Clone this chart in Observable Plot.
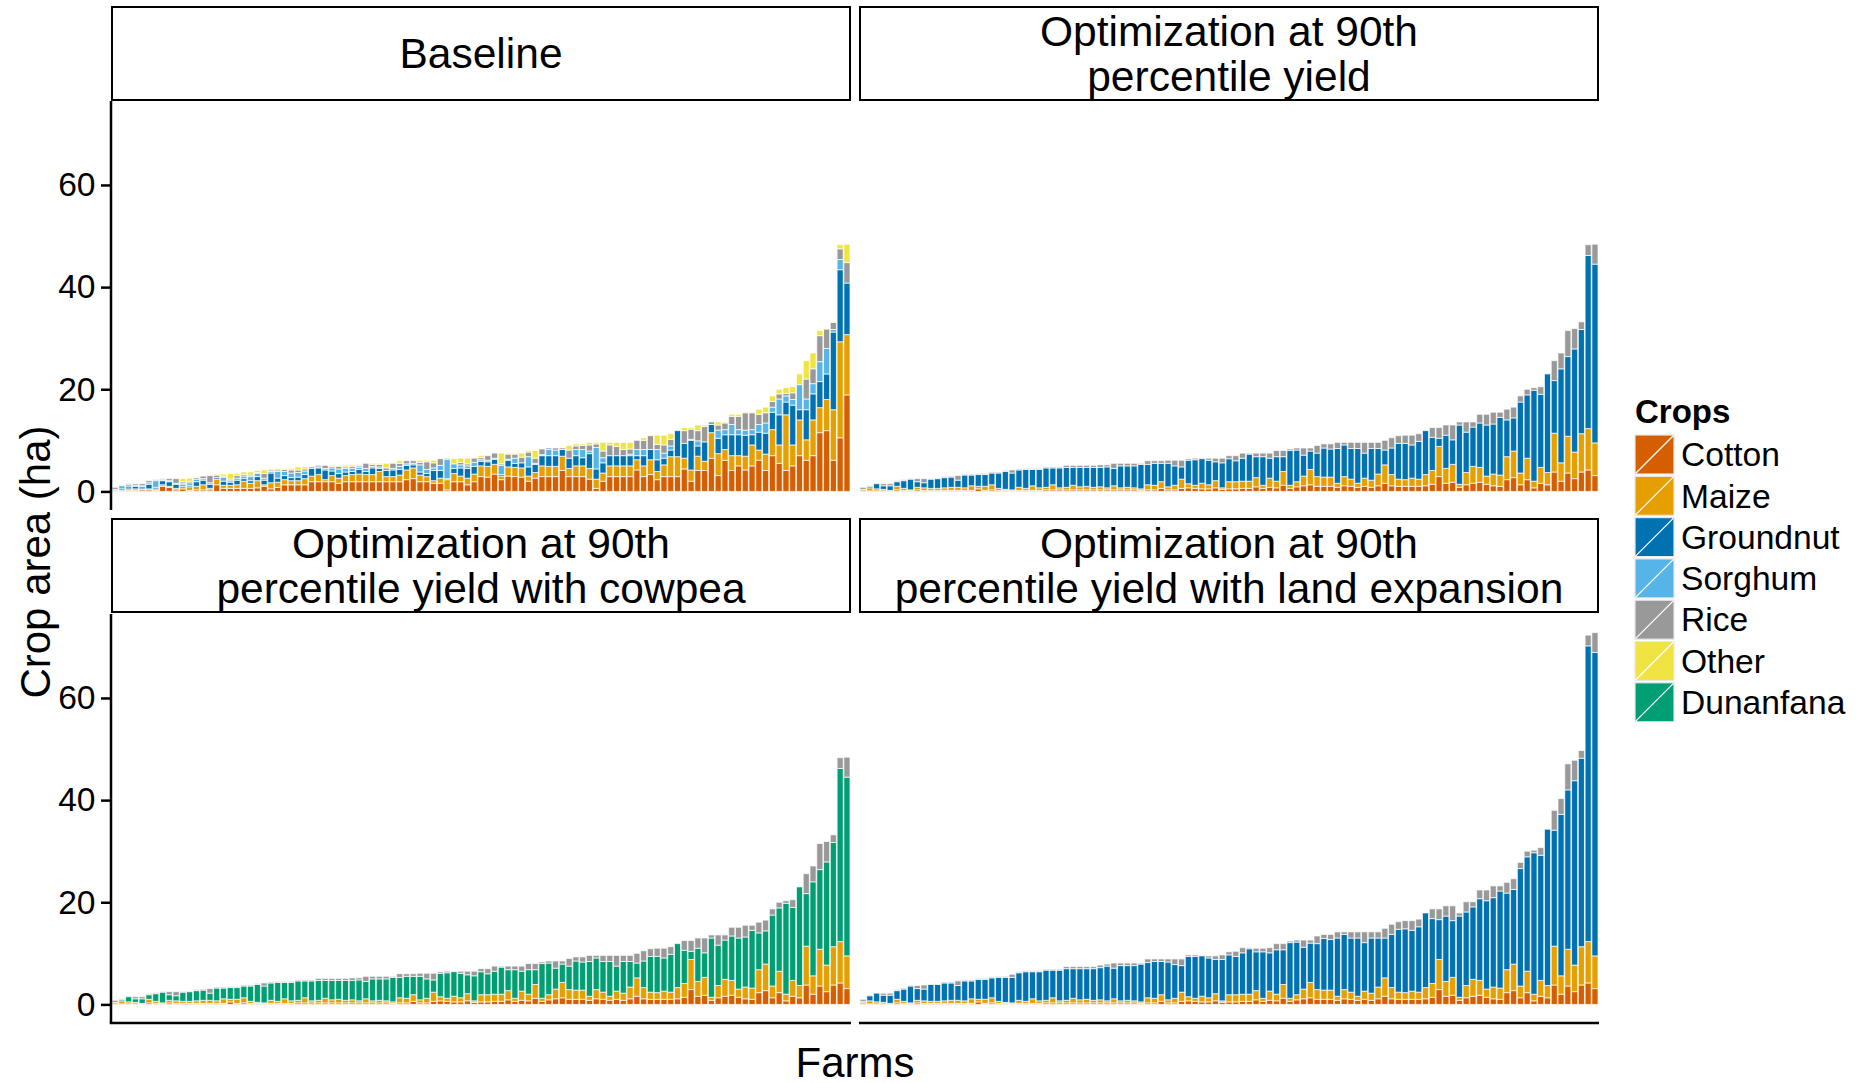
<!DOCTYPE html>
<html>
<head>
<meta charset="utf-8">
<script src="https://cdn.jsdelivr.net/npm/d3@7"></script>
<script src="https://cdn.jsdelivr.net/npm/@observablehq/plot@0.6"></script>
<style>
  html, body { margin: 0; padding: 0; background: #ffffff; overflow: hidden; }
  #root { position: relative; width: 1858px; height: 1083px; font-family: "Liberation Sans", Arial, Helvetica, sans-serif; color: #000; }
  .strip { position: absolute; box-sizing: border-box; border: 2px solid #000; background: #fff;
           display: flex; align-items: center; justify-content: center; text-align: center;
           font-size: 42.5px; line-height: 45px; white-space: pre-line; }
  .panel { position: absolute; }
  .panel svg { display: block; }
  .ytitle { position: absolute; font-size: 42px; white-space: nowrap; transform: translate(-50%, -50%) rotate(-90deg); line-height: 42px; }
  .xtitle { position: absolute; font-size: 42px; white-space: nowrap; transform: translateX(-50%); line-height: 34px; }
</style>
</head>
<body>
<div id="root"></div>
<script>
// ---------------- DATA ----------------
const cropNames  = ["Cotton", "Maize", "Groundnut", "Sorghum", "Rice", "Other", "Dunanfana"];
const cropColors = ["#D55E00", "#E69F00", "#0072B2", "#56B4E9", "#999999", "#F0E442", "#009E73"];
const stackOrder = ["Cotton", "Maize", "Groundnut", "Dunanfana", "Sorghum", "Rice", "Other"];
const yTicks = [0, 20, 40, 60];
const yDomain = [-3.64, 76.44];
const panelTitles = [
  "Baseline",
  "Optimization at 90th\npercentile yield",
  "Optimization at 90th\npercentile yield with cowpea",
  "Optimization at 90th\npercentile yield with land expansion"
];
const legendTitle = "Crops";
const xTitle = "Farms";
const yTitle = "Crop area (ha)";

// Baseline (farms sorted by total area)
const base_cotton = [0,0,.2,.2,.3,.3,.2,1.0,.8,.3, .5,.2,.3,.3,.3,1.3,.6,.6,.6,.6, .6,.7,1.0,.5,.8,1.3,1.3,1.3,1.3,1.9,
  1.9,1.9,1.9,1.6,1.9,1.9,1.9,1.9,1.9,1.9, 1.9,1.9,1.9,2.3,2.5,1.9,1.9,1.6,1.6,.3, 1.9,1.9,1.3,1.9,2.9,2.8,3.4,2.3,3.0,2.9,
  2.8,2.0,2.6,2.9,2.9,2.9,4.1,2.9,2.9,2.9, 2.4,.6,2.0,2.9,2.9,2.9,2.9,4.2,2.9,3.3, 2.3,2.9,2.9,2.9,4.4,2.0,4.1,4.1,6.5,3.1,
  6.1,4.1,5.0,4.2,5.0,6.1,4.1,7.0,5.5,4.1, 5.0,7.0,6.1,7.0,11.5,11.9,6.1,10.5,18.9];
const base_maize = [.1,.2,.3,.3,.2,.2,.3,.3,.2,.3, .5,.7,.7,1.0,.3,1.1,.6,.6,.7,1.4, 1.0,1.4,.3,1.2,1.0,1.0,.8,.8,1.2,1.1,
  1.4,.4,1.2,1.0,1.2,1.4,1.5,1.4,1.4,2.0, 1.0,1.0,1.3,1.9,2.1,1.3,1.0,.5,1.0,2.0, 1.6,1.1,1.3,1.5,2.1,2.1,1.9,.7,1.8,1.8,
  1.8,1.0,1.1,2.1,2.0,2.0,2.8,1.6,2.1,2.1, 2.1,1.8,1.6,2.1,2.1,2.1,2.1,2.0,2.1,2.9, 1.6,2.3,3.9,3.9,2.1,2.2,2.8,1.8,5.0,4.3,
  2.1,2.9,2.0,2.7,4.1,2.0,3.2,5.1,3.6,10.9, 4.1,7.0,4.0,7.0,4.9,6.1,9.9,18.8,11.8];
const base_groundnut = [.1,.3,.4,.5,.4,.9,.3,.8,.9,.8, .3,.3,.9,.9,.8,.3,.8,.6,.9,.5, .5,.8,.9,1.9,.8,.8,.6,.7,.8,1.5,
  1.3,1.9,.9,.9,.7,.6,.9,.6,1.3,.6, 1.2,1.3,1.1,.9,.6,.6,.6,2.0,1.5,.2, 1.0,1.6,1.9,1.5,.9,.9,1.0,.3,1.3,.8,
  1.0,1.8,1.6,2.0,2.1,2.1,1.3,2.0,2.0,1.6, 2.9,2.0,2.0,2.0,2.0,2.0,2.0,.8,2.0,2.0, 2.3,1.3,1.3,5.1,2.9,5.8,2.0,3.8,1.6,3.0,
  2.9,4.1,4.1,4.1,2.0,3.5,4.1,3.4,5.9,2.5, 7.8,2.0,5.9,5.1,5.1,5.0,15.2,14.1,10.1];
const base_sorghum = [.2,.6,.4,.2,.2,.3,1.3,.2,.2,.2, .3,.5,.5,.3,.3,0,.8,.3,.4,.5, .8,.6,.4,.3,1.3,.8,.9,.9,.7,0,
  .2,.3,.6,.9,.7,.6,.4,.6,.3,.3, 0,.3,.6,.3,.3,1.4,.8,.5,1.0,3.8, .9,.6,.5,.8,.3,.3,.2,1.8,.2,1.0,
  0,2.0,.2,.2,1.2,1.1,0,0,1.2,1.6, .5,4.2,1.0,0,0,0,.3,1.2,1.2,0, 2.0,1.0,.8,0,0,.2,1.0,0,0,1.6,
  1.0,2.0,1.0,1.0,1.0,1.5,2.0,1.0,3.1,1.2, 1.1,4.9,2.1,2.0,3.9,5.0,.5,2.0,0];
const base_rice = [.4,0,.2,.3,.4,.4,.2,.2,.4,.9, .3,.3,.3,.5,1.4,.5,.2,.3,.5,.3, .3,.2,.9,.3,.3,.4,.6,.5,.4,.3,
  .3,.6,.3,.5,.3,.4,.3,1.0,.4,.5, .5,1.0,.6,.6,.5,.5,1.5,1.0,1.3,.2, 0,.5,.4,.8,.4,.9,1.0,.3,1.0,.8,
  1.1,.9,1.0,1.1,.3,.4,.3,1.6,.7,.8, 1.2,.7,1.3,2.1,1.8,1.2,1.0,1.8,1.8,2.7, 1.0,1.6,1.3,0,2.5,2.0,2.0,3.0,.5,1.0,
  1.3,1.6,2.6,3.4,3.3,2.0,2.0,1.1,1.0,.5, 1.3,0,3.9,2.9,5.1,3.8,1.4,2.1,4.0];
const base_other = [0,0,0,0,0,0,0,0,0,0, .6,.6,.2,0,0,.2,.4,1.1,.4,.5, .6,.4,.7,.2,.3,.2,.3,.6,.4,0,
  0,0,.2,.2,.3,.3,.2,0,.2,.2, .9,0,.5,0,0,.4,.3,.5,0,0, 1.0,.8,1.1,0,.4,0,0,2.1,.2,.2,
  .8,.3,1.5,0,0,0,0,.9,.4,.3, .5,.3,1.7,.5,.8,1.4,1.3,0,.5,0, 1.8,1.9,1.1,0,.6,.3,1.1,.3,0,.6,
  .2,.4,.4,.1,.1,1.0,1.1,1.1,.9,1.1, 1.2,2.1,3.6,3.1,1.0,.1,.1,.8,3.6];

// Optimization at 90th percentile yield (same allocation in the cowpea panel,
// where the legume area is Dunanfana instead of Groundnut)
const opt_cotton = [.1,.1,.1,.1,0,.3,.2,.1,.3,.2, .2,.2,.2,.2,.2,.2,.2,.5,.2,.3, .2,.2,.1,.2,.2,.2,.2,.3,.3,.3,
  .3,.3,.3,.3,.3,.3,.3,.3,.3,.3, .3,.2,.3,.3,.6,.3,.3,.6,.7,.6, .5,.5,.7,.4,.5,.5,.6,.6,.9,.6,
  .8,.7,1.2,.6,.9,1.1,1.3,1.0,1.0,1.0, .8,1.1,1.0,.8,1.0,.8,1.1,1.6,1.1,1.0, 1.0,1.0,1.0,1.1,1.4,2.9,1.6,1.8,.8,1.3,
  1.6,1.8,1.4,1.1,1.0,2.3,2.7,1.3,2.3,.7, 1.6,1.3,3.8,2.0,3.6,2.5,3.8,4.2,3.1];
const opt_maize = [.3,.6,.4,.3,.2,.7,.4,.2,.5,.5, .4,.4,.5,.6,.6,.5,.9,.5,.8,1.0, .4,.2,.2,.6,.4,.9,.5,.5,1.0,.4,
  .5,.9,.6,.7,.5,.6,.4,.8,.4,.5, .4,.3,1.0,.9,1.3,.6,.9,1.8,.8,.6, 1.1,.8,1.4,.3,1.4,1.4,1.4,1.4,1.8,.6,
  1.8,1.3,2.7,.6,1.0,1.9,3.0,1.9,1.8,1.8, .8,1.8,1.4,.8,1.6,1.4,2.3,3.6,2.2,1.4, 1.3,1.6,1.4,2.2,2.7,5.9,2.9,3.5,.6,2.4,
  3.3,2.9,1.6,2.3,2.2,4.5,5.2,2.3,4.2,1.3, 3.1,2.4,7.6,3.6,7.2,5.2,7.5,8.1,6.4];
const opt_legume = [0,.3,1.0,.7,.9,.9,1.5,2.1,1.1,1.0, 1.8,1.9,2.0,2.0,1.4,2.5,2.1,2.3,2.3,2.3, 3.0,3.5,3.3,3.4,3.7,3.2,3.6,3.8,3.3,3.9,
  3.9,3.5,3.8,3.7,3.9,3.8,4.1,3.4,4.3,4.2, 4.3,4.8,4.0,4.3,3.6,4.6,3.8,2.4,4.6,5.0, 4.8,4.8,3.7,4.9,4.5,4.1,4.5,5.3,4.1,5.6,
  3.9,4.8,2.9,6.8,6.2,4.1,3.6,4.6,5.7,5.5, 6.8,6.2,6.0,6.8,4.9,6.2,5.0,2.9,5.2,7.0, 7.1,6.5,7.4,8.6,6.5,1.6,6.5,4.8,11.6,7.9,
  7.7,8.7,10.0,9.8,11.3,7.2,6.5,13.9,12.4,17.8, 14.3,19.3,10.3,18.4,15.6,20.2,20.4,33.9,35.0];
const opt_rice = [.4,.1,0,.4,.4,.2,.2,.1,.6,.8, .1,.1,.2,.2,.9,.2,.2,.2,.2,.2, .2,.2,.6,.2,.2,.2,.2,.2,.2,.2,
  .4,.4,.4,.4,.4,.5,.4,1.0,.5,.5, .5,.2,.7,.5,.5,.6,1.1,1.3,.3,.3, 0,.4,.7,.9,.6,1.0,1.0,.2,.7,.7,
  1.0,1.2,1.2,.3,.4,1.4,.6,1.5,.8,1.0, 1.2,.5,1.2,1.2,2.1,1.2,1.2,1.9,2.0,1.5, 1.6,1.9,1.5,0,1.9,2.1,2.0,2.9,.6,2.0,
  1.0,1.7,2.1,2.3,1.0,2.1,2.1,1.2,1.1,.5, 1.5,0,3.9,3.1,5.1,4.0,1.5,2.1,3.9];

// Land expansion: cotton, maize and rice as in the optimization, groundnut expanded
const exp_groundnut = [.2,1.0,1.7,1.4,1.6,1.7,2.4,3.3,2.3,2.3, 3.3,3.3,3.5,3.4,2.9,3.9,3.5,3.9,3.9,3.9, 4.7,4.9,5.0,5.4,5.8,5.3,5.7,5.9,5.4,6.0,
  6.2,5.8,6.1,6.0,6.2,6.3,6.8,6.0,6.9,6.8, 6.9,7.4,6.9,7.2,6.5,7.4,6.6,5.2,7.9,8.2, 7.9,7.8,6.7,8.1,7.8,7.5,8.1,8.9,7.6,9.1,
  7.5,8.7,6.8,10.9,10.3,8.2,7.7,9.0,10.1,9.9, 11.4,10.8,10.6,11.4,9.5,10.8,9.6,7.8,10.4,12.3, 12.5,11.9,12.8,14.6,12.7,7.8,12.8,11.1,15.9,14.4,
  14.2,16.0,17.3,17.5,19.0,15.0,14.6,23.0,22.4,27.7, 24.5,30.6,22.7,31.6,31.2,36.1,36.9,57.9,59.4];

// ---------------- LAYOUT ----------------
const colLeft = [111, 859];
const panelW = 740;
const stripTop = [6, 518];
const stripH = 95;
const plotTop = [101, 613.5];
const plotH = 409;
const FONT = '"Liberation Sans", Arial, Helvetica, sans-serif';

const panels = [
  {title: panelTitles[0], col: 0, row: 0, series: [["Cotton", base_cotton], ["Maize", base_maize], ["Groundnut", base_groundnut], ["Sorghum", base_sorghum], ["Rice", base_rice], ["Other", base_other]]},
  {title: panelTitles[1], col: 1, row: 0, series: [["Cotton", opt_cotton], ["Maize", opt_maize], ["Groundnut", opt_legume], ["Rice", opt_rice]]},
  {title: panelTitles[2], col: 0, row: 1, series: [["Cotton", opt_cotton], ["Maize", opt_maize], ["Dunanfana", opt_legume], ["Rice", opt_rice]]},
  {title: panelTitles[3], col: 1, row: 1, series: [["Cotton", opt_cotton], ["Maize", opt_maize], ["Groundnut", exp_groundnut], ["Rice", opt_rice]]}
];

const farms = base_cotton.map((_, i) => i);
function toRows(series) {
  const out = [];
  for (const [crop, vals] of series) vals.forEach((v, i) => { if (v > 0) out.push({farm: i, crop, area: v}); });
  return out;
}

const root = document.getElementById("root");

for (const p of panels) {
  // strip
  const s = document.createElement("div");
  s.className = "strip";
  s.style.left = colLeft[p.col] + "px";
  s.style.top = stripTop[p.row] + "px";
  s.style.width = panelW + "px";
  s.style.height = stripH + "px";
  s.textContent = p.title;
  root.appendChild(s);

  const ml = p.col === 0 ? 111 : 0;
  const mb = p.row === 1 ? 4 : 0;
  const marks = [
    Plot.barY(toRows(p.series), {
      x: "farm", y: "area", fill: "crop", order: stackOrder,
      stroke: "white", strokeWidth: 1, strokeOpacity: 0.7
    })
  ];
  if (p.col === 0) {
    marks.push(Plot.axisY({ticks: yTicks, tickSize: 10, tickPadding: 6, fontSize: 33.6, label: null, strokeWidth: 2.5}));
  }
  const chart = Plot.plot({
    width: ml + panelW,
    height: plotH + mb,
    marginLeft: ml, marginRight: 0, marginTop: 0, marginBottom: mb,
    x: {type: "band", domain: farms, paddingInner: 0.1, paddingOuter: 0.15, axis: null},
    y: p.col === 0 ? {domain: yDomain} : {domain: yDomain, axis: null},
    color: {domain: cropNames, range: cropColors},
    style: {background: "transparent", overflow: "visible", fontFamily: FONT, fontSize: "33.6px", color: "black"},
    marks
  });
  const wrap = document.createElement("div");
  wrap.className = "panel";
  wrap.style.left = (colLeft[p.col] - ml) + "px";
  wrap.style.top = plotTop[p.row] + "px";
  wrap.appendChild(chart);
  root.appendChild(wrap);

  // axis lines (ggplot classic style), placed from the plot's own scales
  const xr = chart.scale("x").range, yr = chart.scale("y").range;
  const svg = d3.select(chart);
  if (p.col === 0) {
    svg.append("line").attr("x1", xr[0]).attr("x2", xr[0]).attr("y1", yr[0]).attr("y2", yr[1])
      .attr("stroke", "#000").attr("stroke-width", 2.5);
  }
  if (p.row === 1) {
    svg.append("line").attr("x1", xr[0] - (p.col === 0 ? 1.25 : 0)).attr("x2", xr[1]).attr("y1", yr[0]).attr("y2", yr[0])
      .attr("stroke", "#000").attr("stroke-width", 2.5);
  }
}

// axis titles
const yt = document.createElement("div");
yt.className = "ytitle"; yt.textContent = yTitle;
yt.style.left = "36px"; yt.style.top = "562px";
root.appendChild(yt);
const xt = document.createElement("div");
xt.className = "xtitle"; xt.textContent = xTitle;
xt.style.left = "855px"; xt.style.top = "1046px";
root.appendChild(xt);

// legend
const lg = d3.select(root).append("svg")
  .attr("width", 240).attr("height", 360)
  .style("position", "absolute").style("left", "1620px").style("top", "380px")
  .style("font-family", FONT);
lg.append("text").attr("x", 15).attr("y", 43).attr("font-size", 33).attr("font-weight", "bold").text(legendTitle);
const keyStep = 41.3, keySize = 39, key0 = 55;
cropNames.forEach((name, k) => {
  const y = key0 + k * keyStep;
  const g = lg.append("g");
  g.append("rect").attr("x", 15).attr("y", y).attr("width", keySize).attr("height", keySize)
    .attr("fill", cropColors[k]).attr("stroke", "#e8e8e8").attr("stroke-width", 1.2);
  g.append("line").attr("x1", 15.5).attr("y1", y + keySize - 0.5).attr("x2", 15 + keySize - 0.5).attr("y2", y + 0.5)
    .attr("stroke", "white").attr("stroke-width", 1.2);
  g.append("text").attr("x", 61).attr("y", y + keySize / 2).attr("dy", "0.35em").attr("font-size", 33.6).text(name);
});
</script>
</body>
</html>
